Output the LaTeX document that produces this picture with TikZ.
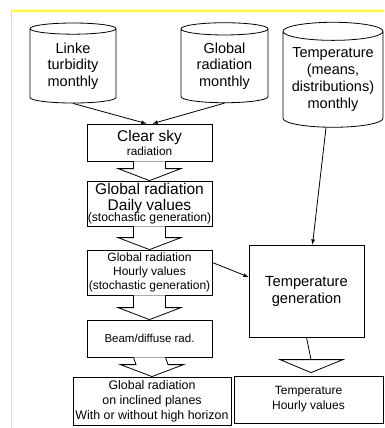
\documentclass[tikz,border=0pt]{standalone}
\usepackage{fontspec}
\setmainfont{Liberation Sans}
\usetikzlibrary{shapes.geometric,calc}

\newcommand{\fs}[2]{\fontsize{#1}{#2}\selectfont}
% block arrow from the bottom of one box to the top of the next
\newcommand{\fatarrow}[2]{%
  \draw[fat] ($(#1.south)+(-16,0)$) -- ($(#2.north)+(-16,-12)$) -- ++(-15.5,0)
    -- (#2.north) -- ($(#2.north)+(31.5,-12)$) -- ++(-15.5,0) -- ($(#1.south)+(16,0)$);}

\begin{document}
\begin{tikzpicture}[x=1pt,y=-1pt,line width=0.8pt,
  store/.style={cylinder,shape border rotate=90,aspect=0.22,draw,align=center,
    inner sep=0pt,font=\fs{14.5}{16.7}},
  box/.style={draw,rectangle,inner sep=0pt,align=center,font=\fs{12}{14}},
  feed/.style={->,>=latex},
  fat/.style={draw,fill=white}]
\useasboundingbox (0,0) rectangle (384,428);
\draw[yellow,line width=1pt] (11,428) -- (11,11) -- (384,11);

% monthly input data
\node[store,minimum width=86pt,minimum height=80pt] (linke) at (73,66) {Linke\\turbidity\\monthly};
\node[store,minimum width=87pt,minimum height=80pt] (glob) at (224.5,66) {Global\\radiation\\monthly};
\node[store,minimum width=100pt,minimum height=105pt] (temp) at (333,79.5) {Temperature\\(means,\\distributions)\\monthly};

% radiation chain
\node[box,minimum width=125pt,minimum height=37pt,font=\fs{15.5}{17}] (clear) at (149.5,142.5)
  {Clear sky\\[-3pt]{\fs{11.8}{13}radiation}};
\node[box,minimum width=125pt,minimum height=45pt,font=\fs{15.5}{16}] (daily) at (149.5,203.5)
  {Global radiation\\Daily values\\[-4.5pt]{\fs{12.2}{13}(stochastic generation)}};
\node[box,minimum width=125pt,minimum height=45pt] (hourly) at (149.5,272.5)
  {Global radiation\\Hourly values\\(stochastic generation)};
\node[box,minimum width=125pt,minimum height=37pt,font=\fs{11.5}{13}] (beam) at (149.5,338.5) {Beam/diffuse rad.};
\node[box,minimum width=158pt,minimum height=48pt,font=\fs{12.4}{15}] (incl) at (152,401)
  {Global radiation\\on inclined planes\\With or without high horizon};

% temperature chain
\node[box,minimum width=115pt,minimum height=92pt,font=\fs{14.7}{17}] (tgen) at (306.5,291) {Temperature\\generation};
\node[box,minimum width=149pt,minimum height=47pt,font=\fs{12}{15}] (thourly) at (308.5,399.5) {Temperature\\Hourly values};

\draw[feed] (linke.south) -- ([xshift=-3pt]clear.north);
\draw[feed] (glob.south) -- ([xshift=3pt]clear.north);
\draw[feed] ([xshift=-7pt]temp.south) -- ([xshift=6pt]tgen.north);
\draw[feed] ([yshift=10pt]hourly.east) -- ([yshift=14pt]tgen.west);

\fatarrow{clear}{daily}
\fatarrow{daily}{hourly}
\fatarrow{hourly}{beam}
\fatarrow{beam}{incl}

\draw (tgen.south) -- ($(thourly.north)+(2.5,-16)$);
\draw ($(thourly.north)+(-28.5,-16)$) -- ++(63,0) -- ($(thourly.north)+(2.5,-3)$) -- cycle;
\end{tikzpicture}
\end{document}
